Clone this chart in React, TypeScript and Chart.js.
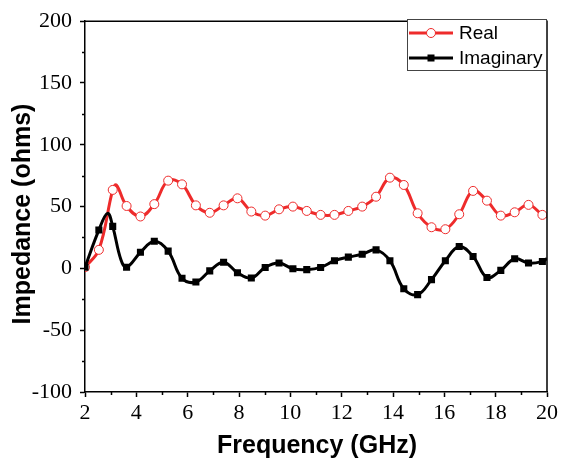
import React, { useEffect, useRef } from 'react';
import { Chart, registerables } from 'chart.js';

Chart.register(...registerables);

// Frequencies (GHz) of the marked data points
const freq = [2.0, 2.54, 3.08, 3.62, 4.16, 4.7, 5.24, 5.78, 6.32, 6.86, 7.4, 7.94, 8.48, 9.02, 9.56, 10.1, 10.64, 11.18, 11.72, 12.26, 12.8, 13.34, 13.88, 14.42, 14.96, 15.5, 16.04, 16.58, 17.12, 17.66, 18.2, 18.74, 19.28, 19.82];
const realValues = [1, 15, 63.5, 50.5, 42, 52, 71, 68, 51, 45, 51, 56.7, 46, 42.7, 47.8, 50, 46.5, 43.3, 43.3, 46.5, 50, 58, 73.4, 67.5, 44.6, 33.3, 31.7, 43.8, 62.7, 54.8, 42.7, 45.4, 51.4, 43.3];
const imagValues = [1, 31, 34, 1, 13, 22, 14, -8, -11, -2, 5, -3.5, -7.8, 0.8, 4.3, -0.3, -1, 0.8, 6.2, 9.1, 11.5, 15, 6.2, -16.5, -21.2, -9.1, 6.2, 17.7, 9.7, -7.3, -1.6, 7.8, 4.3, 5.6];
// Points on the smoothed curves that carry no marker
const realCurveFreq = [3.22, 20];
const realCurveValues = [67.5, 42];
const imagCurveFreq = [2.88, 3.4, 20];
const imagCurveValues = [44.5, 7, 8];

const xTicks = [2, 4, 6, 8, 10, 12, 14, 16, 18, 20];
const xMinorTicks = [3, 5, 7, 9, 11, 13, 15, 17, 19];
const yMinorTicks = [-75, -25, 25, 75, 125, 175];

const seriesNames = ['Real', 'Imaginary'];
const RED = '#EE2B2B';

function buildSeries(f: number[], v: number[], cf: number[], cv: number[]) {
  const pts = f
    .map((x, i) => ({ x, y: v[i], m: true }))
    .concat(cf.map((x, i) => ({ x, y: cv[i], m: false })));
  pts.sort((a, b) => a.x - b.x);
  return pts;
}

const decorPlugin = {
  id: 'decor',
  afterDraw(chart: any) {
    const { ctx, chartArea } = chart;
    const { left, right, top, bottom } = chartArea;
    const xs = chart.scales.x;
    const ys = chart.scales.y;
    ctx.save();
    // frame top & right
    ctx.strokeStyle = '#000';
    ctx.lineWidth = 1.5;
    ctx.beginPath();
    ctx.moveTo(left, top);
    ctx.lineTo(right, top);
    ctx.lineTo(right, bottom);
    ctx.stroke();
    // minor ticks
    ctx.lineWidth = 1.5;
    ctx.beginPath();
    xMinorTicks.forEach((v) => {
      const px = Math.round(xs.getPixelForValue(v)) + 0.5;
      ctx.moveTo(px, bottom);
      ctx.lineTo(px, bottom + 3);
    });
    yMinorTicks.forEach((v) => {
      const py = Math.round(ys.getPixelForValue(v)) + 0.5;
      ctx.moveTo(left, py);
      ctx.lineTo(left - 3, py);
    });
    ctx.stroke();

    // legend
    const lx = 407, ly = 19, lw = 139, lh = 51;
    ctx.fillStyle = '#fff';
    ctx.fillRect(lx, ly, lw, lh);
    ctx.strokeStyle = '#444';
    ctx.lineWidth = 1;
    ctx.strokeRect(lx + 0.5, ly + 0.5, lw, lh);
    const rows = [
      { y: 33, color: RED, name: seriesNames[0], marker: 'circle' },
      { y: 58, color: '#000', name: seriesNames[1], marker: 'square' },
    ];
    rows.forEach((r) => {
      ctx.strokeStyle = r.color;
      ctx.lineWidth = 3;
      ctx.beginPath();
      ctx.moveTo(409, r.y);
      ctx.lineTo(453, r.y);
      ctx.stroke();
      if (r.marker === 'circle') {
        ctx.fillStyle = '#fff';
        ctx.lineWidth = 1;
        ctx.beginPath();
        ctx.arc(431, r.y, 4.5, 0, Math.PI * 2);
        ctx.fill();
        ctx.stroke();
      } else {
        ctx.fillStyle = '#000';
        ctx.fillRect(431 - 3.5, r.y - 3.5, 7, 7);
      }
      ctx.fillStyle = '#000';
      ctx.font = '19px "Liberation Sans", Arial, sans-serif';
      ctx.textAlign = 'left';
      ctx.textBaseline = 'middle';
      ctx.fillText(r.name, 459, r.y + 1);
    });

    // axis titles
    ctx.fillStyle = '#000';
    ctx.font = 'bold 25px "Liberation Sans", Arial, sans-serif';
    ctx.textAlign = 'center';
    ctx.textBaseline = 'middle';
    ctx.fillText('Frequency (GHz)', (left + right) / 2 + 1, 446);
    ctx.translate(23, 214);
    ctx.rotate(-Math.PI / 2);
    ctx.fillText('Impedance (ohms)', 0, 0);
    ctx.restore();
  },
};

export default function App() {
  const ref = useRef<HTMLCanvasElement | null>(null);
  useEffect(() => {
    document.body.style.margin = '0';
    const canvas = ref.current;
    if (!canvas) return;
    const chart = new Chart(canvas, {
      type: 'line',
      data: {
        datasets: [
          {
            label: seriesNames[0],
            data: buildSeries(freq, realValues, realCurveFreq, realCurveValues) as any,
            borderColor: RED,
            borderWidth: 3,
            backgroundColor: '#fff',
            pointBackgroundColor: '#fff',
            pointBorderColor: RED,
            pointBorderWidth: 1,
            pointStyle: 'circle',
            pointRadius: (c: any) => (c.raw && c.raw.m ? 4.5 : 0),
            tension: 0.4,
            order: 2,
          },
          {
            label: seriesNames[1],
            data: buildSeries(freq, imagValues, imagCurveFreq, imagCurveValues) as any,
            borderColor: '#000',
            borderWidth: 3,
            backgroundColor: '#000',
            pointBackgroundColor: '#000',
            pointBorderColor: '#000',
            pointBorderWidth: 0,
            pointStyle: 'rect',
            pointRadius: (c: any) => (c.raw && c.raw.m ? 5 : 0),
            tension: 0.4,
            order: 1,
          },
        ],
      },
      options: {
        responsive: false,
        animation: false,
        devicePixelRatio: 1,
        layout: { padding: { top: 19, right: 14, left: 0, bottom: 0 } },
        plugins: { legend: { display: false }, tooltip: { enabled: false } },
        scales: {
          x: {
            type: 'linear',
            min: 2,
            max: 20,
            afterFit: (s: any) => { s.height = 73; },
            afterBuildTicks: (s: any) => { s.ticks = xTicks.map((v) => ({ value: v })); },
            ticks: {
              autoSkip: false,
              maxRotation: 0,
              padding: 3,
              color: '#000',
              font: { family: '"Liberation Serif", "Times New Roman", serif', size: 22 },
            },
            grid: { drawOnChartArea: false, drawTicks: true, tickLength: 5, tickWidth: 1.5, tickColor: '#000' },
            border: { display: true, color: '#000', width: 1.5 },
          },
          y: {
            type: 'linear',
            min: -100,
            max: 200,
            afterFit: (s: any) => { s.width = 85; },
            ticks: {
              stepSize: 50,
              padding: 8,
              color: '#000',
              font: { family: '"Liberation Serif", "Times New Roman", serif', size: 22 },
            },
            grid: { drawOnChartArea: false, drawTicks: true, tickLength: 5, tickWidth: 1.5, tickColor: '#000' },
            border: { display: true, color: '#000', width: 1.5 },
          },
        },
      },
      plugins: [decorPlugin],
    });
    return () => chart.destroy();
  }, []);
  return (
    <div style={{ width: 561, height: 465 }}>
      <canvas ref={ref} width={561} height={465} />
    </div>
  );
}
